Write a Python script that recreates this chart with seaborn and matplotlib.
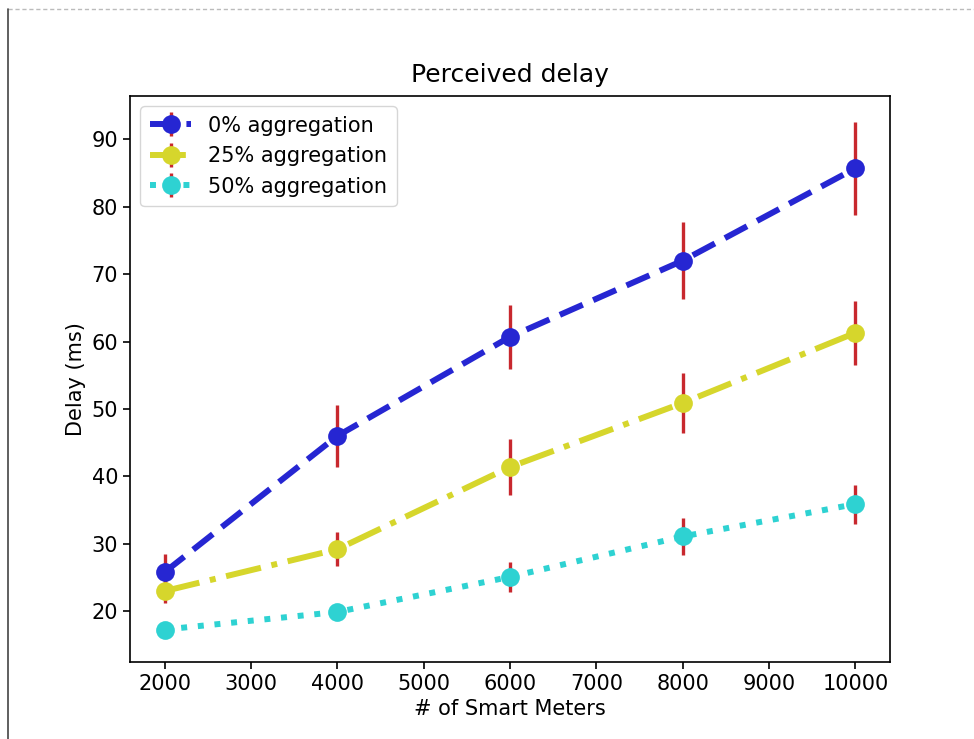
import pandas as pd
import matplotlib.pyplot as plt
import seaborn as sns
from matplotlib.lines import Line2D
from matplotlib.legend_handler import HandlerTuple

# data
meters = [2000, 4000, 6000, 8000, 10000]
delay_0 = [25.8, 46.0, 60.7, 72.0, 85.7]
err_0 = [2.7, 4.6, 4.7, 5.7, 6.9]
delay_25 = [23.0, 29.2, 41.4, 50.9, 61.3]
err_25 = [1.7, 2.5, 4.2, 4.4, 4.7]
delay_50 = [17.3, 19.9, 25.1, 31.1, 35.9]
err_50 = [1.0, 1.0, 2.2, 2.7, 2.9]
labels = ['0% aggregation', '25% aggregation', '50% aggregation']

df = pd.concat([
    pd.DataFrame({'meters': meters, 'delay': d, 'err': e, 'scheme': lab})
    for d, e, lab in zip([delay_0, delay_25, delay_50],
                         [err_0, err_25, err_50], labels)
], ignore_index=True)

sns.set_style('ticks')
plt.rcParams['font.family'] = ['DejaVu Sans']
plt.rcParams['axes.edgecolor'] = 'black'
plt.rcParams['text.color'] = 'black'
plt.rcParams['axes.labelcolor'] = 'black'
plt.rcParams['xtick.color'] = 'black'
plt.rcParams['ytick.color'] = 'black'

palette = {labels[0]: '#2626d2', labels[1]: '#d6d62c', labels[2]: '#2ed2d2'}
dashes = {labels[0]: (4.2, 1.9), labels[1]: (6.0, 1.8, 1.0, 1.8), labels[2]: (1.0, 1.8)}
err_color = '#c8282e'

fig = plt.figure(figsize=(9.74, 7.39), dpi=100)
ax = fig.add_axes([130 / 974, 1 - 662 / 739, 760 / 974, 566 / 739])

# error bars first, so the markers sit on top
ax.errorbar(df['meters'], df['delay'], yerr=df['err'], fmt='none',
            ecolor=err_color, elinewidth=2.4, capsize=0, zorder=2)

sns.lineplot(data=df, x='meters', y='delay', hue='scheme', style='scheme',
             palette=palette, dashes=dashes, markers={l: 'o' for l in labels},
             linewidth=4.3, markersize=13.5, markeredgewidth=0, ax=ax,
             legend=False, zorder=3)

ax.set_title('Perceived delay', fontsize=18, pad=10)
ax.set_xlabel('# of Smart Meters', fontsize=15)
ax.set_ylabel('Delay (ms)', fontsize=15)
ax.tick_params(labelsize=15, length=5, width=1.2)
ax.set_xticks(range(2000, 10001, 1000))
ax.set_yticks(range(20, 91, 10))
ax.margins(x=0.05, y=0.05)
for s in ax.spines.values():
    s.set_linewidth(1.2)
    s.set_visible(True)

# legend handles: red error tick under each line+marker
handles = []
for lab in labels:
    eb = Line2D([], [], color=err_color, marker='|', markersize=17,
                markeredgewidth=2.4, linestyle='none')
    ln = Line2D([], [], color=palette[lab], linewidth=4.3, marker='o',
                markersize=13.5, markeredgewidth=0, dashes=dashes[lab])
    handles.append((eb, ln))
ax.legend(handles, labels, loc='upper left', fontsize=15,
          handler_map={tuple: HandlerTuple(ndivide=1)},
          handlelength=2.0, borderpad=0.45, labelspacing=0.5, framealpha=0.8)

# page border artefacts from the screenshot
fig.add_artist(Line2D([8 / 974, 1], [1 - 9 / 739, 1 - 9 / 739], color='#bbbbbb',
                      linewidth=1, linestyle=(0, (3, 2)), transform=fig.transFigure))
fig.add_artist(Line2D([8 / 974, 8 / 974], [0, 1 - 9 / 739], color='#444444',
                      linewidth=1.2, transform=fig.transFigure))

plt.savefig('out.png', dpi=100)
